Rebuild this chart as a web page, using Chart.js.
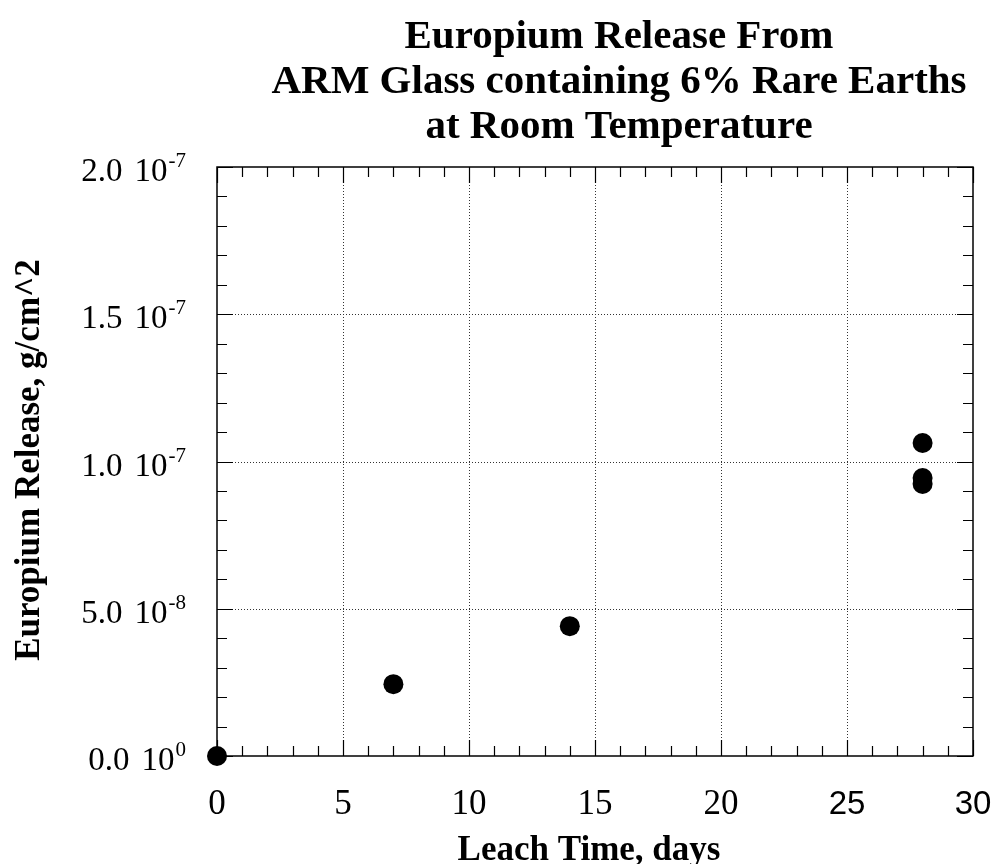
<!DOCTYPE html>
<html>
<head>
<meta charset="utf-8">
<script src="https://cdn.jsdelivr.net/npm/chart.js@4.4.0/dist/chart.umd.min.js"></script>
<style>
  html, body { margin: 0; padding: 0; background: #fff; }
  canvas { display: block; }
</style>
</head>
<body>
<canvas id="chart" width="994" height="864"></canvas>
<script>
const titleLines = ['Europium Release From', 'ARM Glass containing 6% Rare Earths', 'at Room Temperature'];
const xTitle = 'Leach Time, days';
const yTitle = 'Europium Release, g/cm^2';

// leach time (days) and europium release (g/cm^2)
const leachDays = [0, 7, 14, 28, 28, 28];
const europiumRelease = [0, 2.44e-8, 4.41e-8, 1.063e-7, 9.44e-8, 9.24e-8];

const xTicks = [0, 5, 10, 15, 20, 25, 30];
const xTickLabels = ['0', '5', '10', '15', '20', '25', '30'];
const yTicks = [0, 5e-8, 1e-7, 1.5e-7, 2e-7];
const yTickMantissa = ['0.0', '5.0', '1.0', '1.5', '2.0'];
const yTickExponent = ['0', '-8', '-7', '-7', '-7'];

const SERIF = '"Liberation Serif", "DejaVu Serif", serif';
const SANS = '"Liberation Sans", Arial, sans-serif';

const framePlugin = {
  id: 'frame',
  beforeDatasetsDraw(chart) {
    const { ctx, chartArea: a, scales: { x, y } } = chart;
    ctx.save();

    // dotted grid at major ticks
    ctx.strokeStyle = '#333';
    ctx.lineWidth = 1;
    ctx.setLineDash([1, 2]);
    xTicks.slice(1, -1).forEach(v => {
      const px = Math.round(x.getPixelForValue(v)) + 0.5;
      ctx.beginPath();
      ctx.moveTo(px, a.top);
      ctx.lineTo(px, a.bottom);
      ctx.stroke();
    });
    yTicks.slice(1, -1).forEach(v => {
      const py = Math.round(y.getPixelForValue(v)) + 0.5;
      ctx.beginPath();
      ctx.moveTo(a.left, py);
      ctx.lineTo(a.right, py);
      ctx.stroke();
    });

    // solid frame
    ctx.setLineDash([]);
    ctx.strokeStyle = '#000';
    ctx.lineWidth = 1.5;
    ctx.strokeRect(a.left, a.top, a.right - a.left, a.bottom - a.top);

    // inward tick marks on all four sides
    ctx.lineWidth = 1.2;
    ctx.beginPath();
    for (let d = 0; d <= 30; d++) {
      const len = d % 5 === 0 ? 16 : 10;
      const px = Math.round(x.getPixelForValue(d)) + 0.5;
      ctx.moveTo(px, a.bottom);
      ctx.lineTo(px, a.bottom - len);
      ctx.moveTo(px, a.top);
      ctx.lineTo(px, a.top + len);
    }
    for (let i = 0; i <= 20; i++) {
      const len = i % 5 === 0 ? 16 : 10;
      const py = Math.round(y.getPixelForValue(i * 1e-8)) + 0.5;
      ctx.moveTo(a.left, py);
      ctx.lineTo(a.left + len, py);
      ctx.moveTo(a.right, py);
      ctx.lineTo(a.right - len, py);
    }
    ctx.stroke();
    ctx.restore();
  },
  afterDraw(chart) {
    const { ctx, chartArea: a, scales: { x, y } } = chart;
    ctx.save();
    ctx.fillStyle = '#000';

    // x tick labels
    ctx.textAlign = 'center';
    ctx.textBaseline = 'alphabetic';
    xTicks.forEach((v, i) => {
      const sans = v >= 25;
      ctx.font = sans ? `33px ${SANS}` : `35px ${SERIF}`;
      ctx.fillText(xTickLabels[i], x.getPixelForValue(v), 814);
    });

    // y tick labels, "m.m 10^e"
    ctx.textAlign = 'left';
    const right = 186;
    yTicks.forEach((v, i) => {
      const py = y.getPixelForValue(v) + 14;
      ctx.font = `33px ${SERIF}`;
      const wm = ctx.measureText(yTickMantissa[i]).width;
      const wb = ctx.measureText('10').width;
      ctx.font = `21px ${SERIF}`;
      const we = ctx.measureText(yTickExponent[i]).width;
      const gap = 12;
      let cx = right - (wm + gap + wb + we + 1);
      ctx.font = `33px ${SERIF}`;
      ctx.fillText(yTickMantissa[i], cx, py);
      cx += wm + gap;
      ctx.fillText('10', cx, py);
      cx += wb;
      ctx.font = `21px ${SERIF}`;
      ctx.fillText(yTickExponent[i], cx + 1, py - 14);
    });

    // titles
    ctx.font = `bold 41px ${SERIF}`;
    ctx.textAlign = 'center';
    titleLines.forEach((t, i) => ctx.fillText(t, 619, 48 + i * 45));

    ctx.font = `bold 35px ${SERIF}`;
    ctx.fillText(xTitle, (a.left + a.right) / 2 - 6, 860);

    ctx.translate(39, 460);
    ctx.rotate(-Math.PI / 2);
    ctx.fillText(yTitle, 0, 0);
    ctx.restore();
  }
};

new Chart(document.getElementById('chart'), {
  type: 'scatter',
  data: {
    datasets: [{
      data: leachDays.map((d, i) => ({ x: d, y: europiumRelease[i] })),
      backgroundColor: '#000',
      borderWidth: 0,
      pointRadius: 10,
      pointHoverRadius: 10,
      clip: false
    }]
  },
  options: {
    responsive: false,
    animation: false,
    layout: { padding: { left: 217, top: 167, right: 21, bottom: 108 } },
    scales: {
      x: { type: 'linear', min: 0, max: 30, display: false },
      y: { type: 'linear', min: 0, max: 2e-7, display: false }
    },
    plugins: {
      legend: { display: false },
      tooltip: { enabled: false },
      title: { display: false }
    }
  },
  plugins: [framePlugin]
});
</script>
</body>
</html>
